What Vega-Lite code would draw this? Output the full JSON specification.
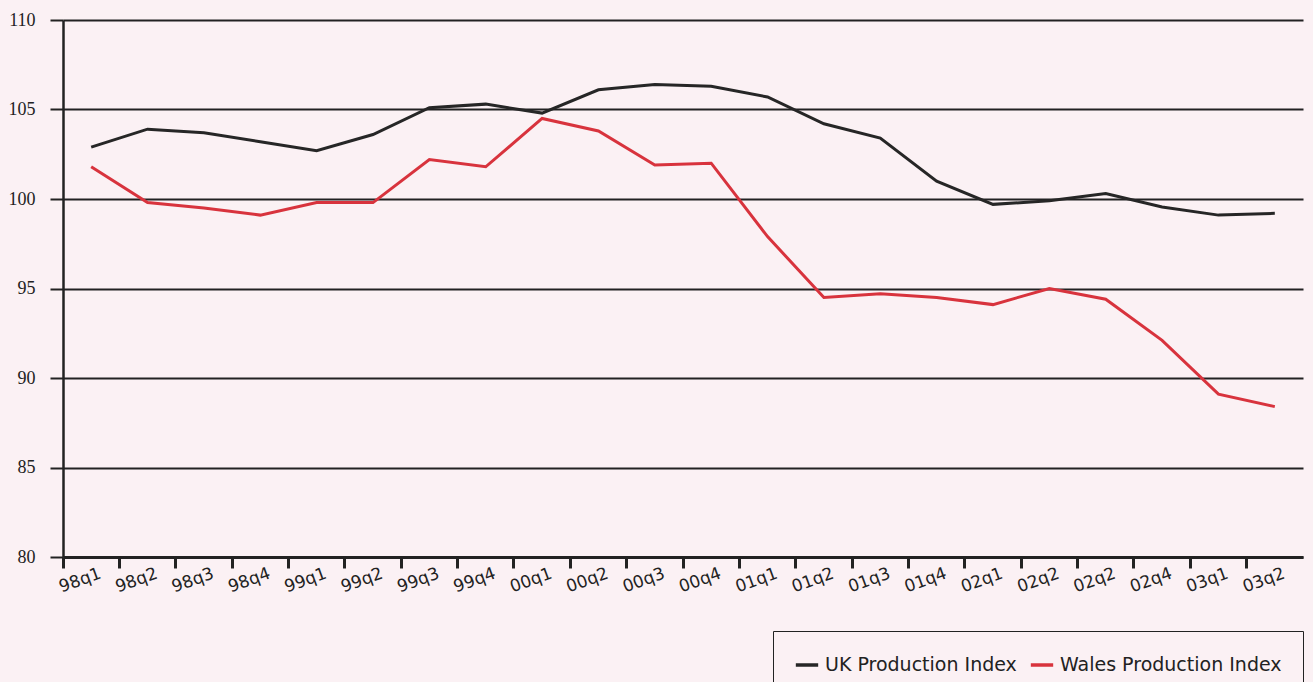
{
  "$schema": "https://vega.github.io/schema/vega-lite/v6.json",
  "width": 1240,
  "height": 537,
  "autosize": "none",
  "padding": {"left": 63, "top": 20, "right": 10, "bottom": 125},
  "background": "#fbf1f4",
  "config": {"view": {"stroke": null}},
  "data": {"values": [
    {"q": "98q1", "s": "UK Production Index", "v": 102.9},
    {"q": "98q2", "s": "UK Production Index", "v": 103.9},
    {"q": "98q3", "s": "UK Production Index", "v": 103.7},
    {"q": "98q4", "s": "UK Production Index", "v": 103.2},
    {"q": "99q1", "s": "UK Production Index", "v": 102.7},
    {"q": "99q2", "s": "UK Production Index", "v": 103.6},
    {"q": "99q3", "s": "UK Production Index", "v": 105.1},
    {"q": "99q4", "s": "UK Production Index", "v": 105.3},
    {"q": "00q1", "s": "UK Production Index", "v": 104.8},
    {"q": "00q2", "s": "UK Production Index", "v": 106.1},
    {"q": "00q3", "s": "UK Production Index", "v": 106.4},
    {"q": "00q4", "s": "UK Production Index", "v": 106.3},
    {"q": "01q1", "s": "UK Production Index", "v": 105.7},
    {"q": "01q2", "s": "UK Production Index", "v": 104.2},
    {"q": "01q3", "s": "UK Production Index", "v": 103.4},
    {"q": "01q4", "s": "UK Production Index", "v": 101.0},
    {"q": "02q1", "s": "UK Production Index", "v": 99.7},
    {"q": "02q2", "s": "UK Production Index", "v": 99.9},
    {"q": "02q2 ", "s": "UK Production Index", "v": 100.3},
    {"q": "02q4", "s": "UK Production Index", "v": 99.55},
    {"q": "03q1", "s": "UK Production Index", "v": 99.1},
    {"q": "03q2", "s": "UK Production Index", "v": 99.2},
    {"q": "98q1", "s": "Wales Production Index", "v": 101.8},
    {"q": "98q2", "s": "Wales Production Index", "v": 99.8},
    {"q": "98q3", "s": "Wales Production Index", "v": 99.5},
    {"q": "98q4", "s": "Wales Production Index", "v": 99.1},
    {"q": "99q1", "s": "Wales Production Index", "v": 99.8},
    {"q": "99q2", "s": "Wales Production Index", "v": 99.8},
    {"q": "99q3", "s": "Wales Production Index", "v": 102.2},
    {"q": "99q4", "s": "Wales Production Index", "v": 101.8},
    {"q": "00q1", "s": "Wales Production Index", "v": 104.5},
    {"q": "00q2", "s": "Wales Production Index", "v": 103.8},
    {"q": "00q3", "s": "Wales Production Index", "v": 101.9},
    {"q": "00q4", "s": "Wales Production Index", "v": 102.0},
    {"q": "01q1", "s": "Wales Production Index", "v": 97.9},
    {"q": "01q2", "s": "Wales Production Index", "v": 94.5},
    {"q": "01q3", "s": "Wales Production Index", "v": 94.7},
    {"q": "01q4", "s": "Wales Production Index", "v": 94.5},
    {"q": "02q1", "s": "Wales Production Index", "v": 94.1},
    {"q": "02q2", "s": "Wales Production Index", "v": 95.0},
    {"q": "02q2 ", "s": "Wales Production Index", "v": 94.4},
    {"q": "02q4", "s": "Wales Production Index", "v": 92.1},
    {"q": "03q1", "s": "Wales Production Index", "v": 89.1},
    {"q": "03q2", "s": "Wales Production Index", "v": 88.4}
  ]},
  "mark": {"type": "line", "strokeWidth": 3},
  "encoding": {
    "x": {
      "field": "q", "type": "ordinal", "sort": null,
      "scale": {"type": "band", "paddingInner": 0, "paddingOuter": 0},
      "axis": {
        "title": null, "bandPosition": 0, "labelAngle": -20, "labelAlign": "center",
        "labelBaseline": "middle", "labelOffset": -11, "labelPadding": 12,
        "labelFont": "DejaVu Sans", "labelFontSize": 17, "labelColor": "#222",
        "domainColor": "#222", "domainWidth": 3, "tickColor": "#222", "tickWidth": 3,
        "tickSize": 11, "grid": false
      }
    },
    "y": {
      "field": "v", "type": "quantitative",
      "scale": {"domain": [80, 110], "nice": false, "zero": false},
      "axis": {
        "title": null, "values": [80, 85, 90, 95, 100, 105, 110],
        "labelFont": "Liberation Serif", "labelFontSize": 18, "labelColor": "#222",
        "labelPadding": 15, "domainColor": "#222", "domainWidth": 2.5,
        "tickColor": "#222", "tickWidth": 2, "tickSize": 13,
        "grid": true, "gridColor": "#222", "gridWidth": 1.8, "gridOpacity": 1
      }
    },
    "color": {
      "field": "s", "type": "nominal",
      "scale": {"domain": ["UK Production Index", "Wales Production Index"], "range": ["#262626", "#d8333d"]},
      "legend": {
        "title": null, "orient": "none", "legendX": 710, "legendY": 611,
        "direction": "horizontal", "symbolType": "stroke", "symbolStrokeWidth": 3.5,
        "symbolSize": 500, "labelFont": "DejaVu Sans", "labelFontSize": 19,
        "labelColor": "#222", "strokeColor": "#222", "fillColor": "#fbf1f4",
        "padding": 21, "columnPadding": 6, "labelOffset": 5, "labelLimit": 400
      }
    }
  }
}
